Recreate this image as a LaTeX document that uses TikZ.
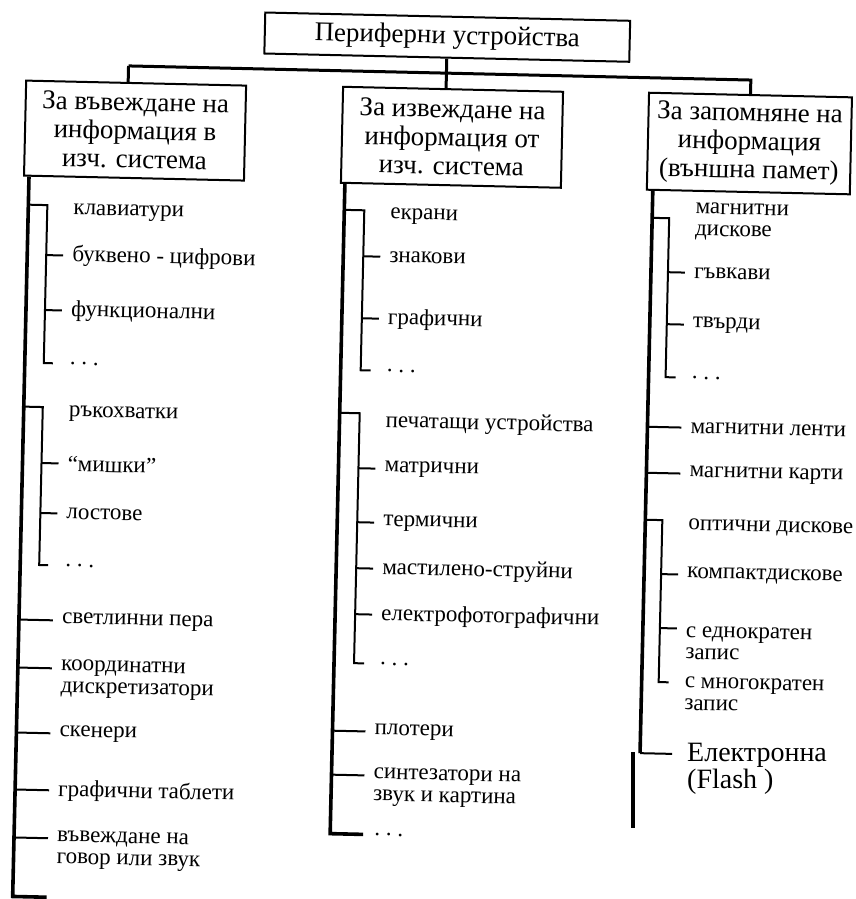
\documentclass[tikz,border=0pt]{standalone}
\usepackage{fontspec}
\setmainfont{Liberation Serif}
\usepackage{tikz}
\newcommand{\etcdots}{.~.~.}

\begin{document}
\begin{tikzpicture}[x=1pt,y=-1pt,
  headbox/.style={draw,line width=2pt,inner sep=0pt,align=center,
                  font=\fontsize{27}{28.5}\selectfont},
  leaf/.style={anchor=west,inner sep=0pt,align=left,
               font=\fontsize{23}{22}\selectfont},
  bus/.style={line width=3pt},
  trunk/.style={line width=3.6pt},
  twig/.style={line width=2pt}
]
\useasboundingbox (0,0) rectangle (856,899);

% the scanned page sits slightly turned
\begin{scope}[rotate=-1.3,transform shape]

% Headings
\node[headbox,minimum width=365pt,minimum height=41pt] (periph) at (448,27) {Периферни устройства};
\node[headbox,minimum width=220pt,minimum height=95pt] (inbox) at (138,127.5) {За въвеждане на\\информация в\\изч. система};
\node[headbox,minimum width=220pt,minimum height=96pt] (outbox) at (455,127) {За извеждане на\\информация от\\изч. система};
\node[headbox,minimum width=203pt,minimum height=97pt] (membox) at (752.5,126.5) {За запомняне на\\информация\\(външна памет)};

% Connections
\coordinate (busW) at (130,63);
\draw[bus] (busW) -| (membox.north);
\draw[bus] (busW) -- (busW |- inbox.north);
\draw[bus] (periph.south) -- (periph.south |- outbox.north);

% Input devices
\coordinate (t1) at (33,896);
\draw[trunk] (inbox.south -| t1) -- (t1) -- ++(34,0);

\coordinate (kb) at (52,204);
\draw[twig] (kb -| t1) -- (kb) -- ++(0,158) -- ++(9,0);
\node[leaf] (kbd) at (78,210) {клавиатури};
\foreach \y/\lbl [count=\i] in {254/буквено - цифрови,309/функционални}{
  \node[leaf] (kbd\i) at (78,\y) {\lbl};
  \draw[twig] (kb |- kbd\i.west) -- ([xshift=-9pt]kbd\i.west);
}
\node[leaf] (kbdx) at (78,362) {\etcdots};

\coordinate (js) at (52,406);
\draw[twig] (js -| t1) -- (js) -- ++(0,158) -- ++(9,0);
\node[leaf] (joy) at (78,412) {ръкохватки};
\foreach \y/\lbl [count=\i] in {462/“мишки”,512/лостове}{
  \node[leaf] (joy\i) at (78,\y) {\lbl};
  \draw[twig] (js |- joy\i.west) -- ([xshift=-9pt]joy\i.west);
}
\node[leaf] (joyx) at (78,564) {\etcdots};

\foreach \y/\lbl [count=\i] in {619/светлинни пера,732/скенери,789/графични таблети}{
  \node[leaf] (indev\i) at (76,\y) {\lbl};
  \draw[twig] (t1 |- indev\i.west) -- ([xshift=-9pt]indev\i.west);
}
\node[leaf] (digit) at (76,677) {координатни\\дискретизатори};
\coordinate (digitT) at ([yshift=10pt]digit.west);
\draw[twig] (t1 |- digitT) -- ([xshift=-9pt]digitT);
\node[leaf] (voice) at (76,848) {въвеждане на\\говор или звук};
\coordinate (voiceT) at ([yshift=11pt]voice.west);
\draw[twig] (t1 |- voiceT) -- ([xshift=-9pt]voiceT);

% Output devices
\coordinate (t2) at (349,826);
\draw[trunk] (outbox.south -| t2) -- (t2) -- ++(33,0);
\node[leaf] (outx) at (393,826) {\etcdots};

\coordinate (scr) at (369,202);
\draw[twig] (scr -| t2) -- (scr) -- ++(0,160) -- ++(10,0);
\node[leaf] (screen) at (395,207) {екрани};
\foreach \y/\lbl [count=\i] in {248/знакови,310/графични}{
  \node[leaf] (screen\i) at (395,\y) {\lbl};
  \draw[twig] (scr |- screen\i.west) -- ([xshift=-9pt]screen\i.west);
}
\node[leaf] (screenx) at (395,362) {\etcdots};

\coordinate (prn) at (369,405);
\draw[twig] (prn -| t2) -- (prn) -- ++(0,250) -- ++(10,0);
\node[leaf] (printer) at (395,413) {печатащи устройства};
\foreach \y/\lbl [count=\i] in {460/матрични,514/термични,560/мастилено-струйни,606/електрофотографични}{
  \node[leaf] (printer\i) at (395,\y) {\lbl};
  \draw[twig] (prn |- printer\i.west) -- ([xshift=-9pt]printer\i.west);
}
\node[leaf] (printerx) at (395,655) {\etcdots};

\node[leaf] (plot) at (391,723) {плотери};
\draw[twig] (t2 |- plot.west) -- ([xshift=-9pt]plot.west);
\node[leaf] (synth) at (391,778) {синтезатори на\\звук и картина};
\coordinate (synthT) at ([yshift=11pt]synth.west);
\draw[twig] (t2 |- synthT) -- ([xshift=-9pt]synthT);

% Storage devices
\coordinate (t3) at (657,738.5);
\draw[trunk] (membox.south -| t3) -- (t3);
\draw[twig] (t3) -- ++(32,0) coordinate (flashT);

\coordinate (mdk) at (674,203);
\draw[twig] (mdk -| t3) -- (mdk) -- ++(0,159) -- ++(10,0);
\node[leaf] (disk) at (700,205.5) {магнитни\\дискове};
\foreach \y/\lbl [count=\i] in {257/гъвкави,309/твърди}{
  \node[leaf] (disk\i) at (700,\y) {\lbl};
  \draw[twig] (mdk |- disk\i.west) -- ([xshift=-9pt]disk\i.west);
}
\node[leaf] (diskx) at (700,362) {\etcdots};

\foreach \y/\lbl [count=\i] in {412/магнитни ленти,458/магнитни карти}{
  \node[leaf] (mag\i) at (700,\y) {\lbl};
  \draw[twig] (t3 |- mag\i.west) -- ([xshift=-9pt]mag\i.west);
}

\coordinate (opt) at (674,505);
\draw[twig] (opt -| t3) -- (opt) -- ++(0,162) -- ++(10,0);
\node[leaf] (optic) at (700,511) {оптични дискове};
\node[leaf] (optic1) at (700,559) {компактдискове};
\draw[twig] (opt |- optic1.west) -- ([xshift=-9pt]optic1.west);
\node[leaf] (optic2) at (700,627) {с еднократен\\запис};
\coordinate (optic2T) at ([yshift=14pt]optic2.west);
\draw[twig] (opt |- optic2T) -- ([xshift=-9pt]optic2T);
\node[leaf] (optic3) at (700,678) {с многократен\\запис};

\end{scope}

% later addition, set upright
\node[anchor=west,inner sep=0pt,align=left,font=\fontsize{28}{27}\selectfont]
  (flash) at (687,768.5) {Електронна\\(Flash )};
\draw[line width=3.4pt] (633,752) -- (633,828);

\end{tikzpicture}
\end{document}
